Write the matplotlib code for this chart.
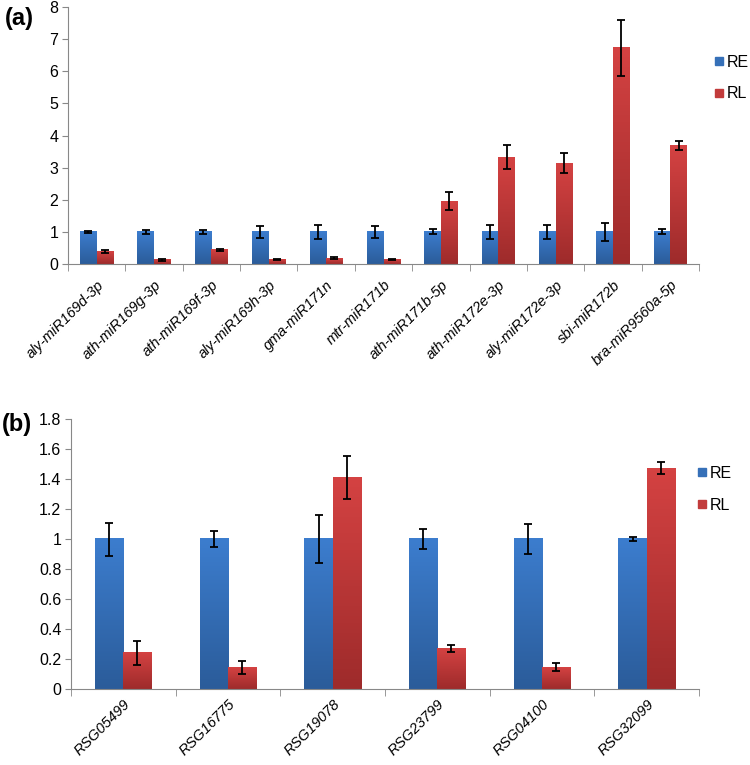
import numpy as np
import matplotlib.pyplot as plt
from matplotlib.colors import LinearSegmentedColormap

plt.rcParams['font.family'] = ['Liberation Sans', 'DejaVu Sans']

# panel (a) data
mirnas = ["aly-miR169d-3p", "ath-miR169g-3p", "ath-miR169f-3p", "aly-miR169h-3p",
          "gma-miR171n", "mtr-miR171b", "ath-miR171b-5p", "ath-miR172e-3p",
          "aly-miR172e-3p", "sbi-miR172b", "bra-miR9560a-5p"]
re_a = [1, 1, 1, 1, 1, 1, 1, 1, 1, 1, 1]
re_a_err = [0.04, 0.06, 0.07, 0.19, 0.21, 0.18, 0.08, 0.21, 0.22, 0.28, 0.08]
rl_a = [0.38, 0.13, 0.45, 0.13, 0.18, 0.13, 1.95, 3.33, 3.14, 6.73, 3.68]
rl_a_err = [0.05, 0.04, 0.03, 0.02, 0.03, 0.02, 0.28, 0.38, 0.31, 0.87, 0.14]

# panel (b) data
genes = ["RSG05499", "RSG16775", "RSG19078", "RSG23799", "RSG04100", "RSG32099"]
re_b = [1, 1, 1, 1, 1, 1]
re_b_err = [0.11, 0.055, 0.16, 0.065, 0.10, 0.015]
rl_b = [0.24, 0.145, 1.41, 0.27, 0.145, 1.47]
rl_b_err = [0.08, 0.045, 0.14, 0.022, 0.027, 0.04]

blue_cm = LinearSegmentedColormap.from_list("b", ["#2b5c9a", "#3c7dce"])
red_cm = LinearSegmentedColormap.from_list("r", ["#9e2b2b", "#d44242"])
grad = np.linspace(0, 1, 64).reshape(-1, 1)


def gradient_bars(ax, bars, cmap):
    for b in bars:
        x0, y0 = b.get_x(), b.get_y()
        w, h = b.get_width(), b.get_height()
        b.set_alpha(0)
        ax.imshow(grad, cmap=cmap, aspect="auto", origin="lower",
                  extent=[x0, x0 + w, y0, y0 + h], zorder=2)


def panel(ax, labels, re, re_err, rl, rl_err, ymax, yticks, ytl, bw, leg_x, leg_y, xpad):
    x = np.arange(len(labels))
    b1 = ax.bar(x - bw / 2, re, bw, color="#3670b8", zorder=2)
    b2 = ax.bar(x + bw / 2, rl, bw, color="#c23b3b", zorder=2)
    gradient_bars(ax, b1, blue_cm)
    gradient_bars(ax, b2, red_cm)
    ax.errorbar(x - bw / 2, re, yerr=re_err, fmt="none", ecolor="black",
                elinewidth=1.3, capsize=3, capthick=1.3, zorder=3)
    ax.errorbar(x + bw / 2, rl, yerr=rl_err, fmt="none", ecolor="black",
                elinewidth=1.3, capsize=3, capthick=1.3, zorder=3)
    ax.set_xlim(-0.5, len(labels) - 0.5)
    ax.set_ylim(0, ymax)
    ax.set_yticks(yticks)
    ax.set_yticklabels(ytl, fontsize=11.5)
    ax.set_xticks(x)
    ax.set_xticklabels(labels, rotation=45, ha="right", rotation_mode="anchor",
                       fontsize=10.5, style="italic")
    ax.tick_params(axis="x", length=0, pad=xpad)
    ax.set_xticks(np.arange(len(labels) + 1) - 0.5, minor=True)
    ax.tick_params(axis="x", which="minor", length=5, color="#888888")
    ax.tick_params(axis="y", length=4, color="#888888", pad=3)
    for s in ["top", "right"]:
        ax.spines[s].set_visible(False)
    for s in ["left", "bottom"]:
        ax.spines[s].set_color("#888888")
    h1 = plt.Line2D([], [], marker="s", ls="none", color="#3670b8", markersize=6)
    h2 = plt.Line2D([], [], marker="s", ls="none", color="#c23b3b", markersize=6)
    ax.legend([h1, h2], ["RE", "RL"], loc="upper left", bbox_to_anchor=(leg_x, leg_y),
              frameon=False, fontsize=11.5, handletextpad=0.05, labelspacing=1.05,
              handlelength=0.8, borderaxespad=0)


fig = plt.figure(figsize=(7.5, 7.65), dpi=100)
ax1 = fig.add_axes([0.0907, 0.6549, 0.8413, 0.3359])
ax2 = fig.add_axes([0.0947, 0.0993, 0.8373, 0.353])

panel(ax1, mirnas, re_a, re_a_err, rl_a, rl_a_err, 8, range(9),
      [str(i) for i in range(9)], 0.29, 1.012, 0.84, 10)
panel(ax2, genes, re_b, re_b_err, rl_b, rl_b_err, 1.8, np.arange(0, 1.81, 0.2),
      ["0", "0.2", "0.4", "0.6", "0.8", "1", "1.2", "1.4", "1.6", "1.8"],
      0.27, 0.985, 0.85, 6)

fig.text(0.006, 0.976, "(a)", fontsize=17, fontweight="bold", ha="left", va="center")
fig.text(0.002, 0.4445, "(b)", fontsize=17, fontweight="bold", ha="left", va="center")

fig.savefig("out.png", dpi=100)
